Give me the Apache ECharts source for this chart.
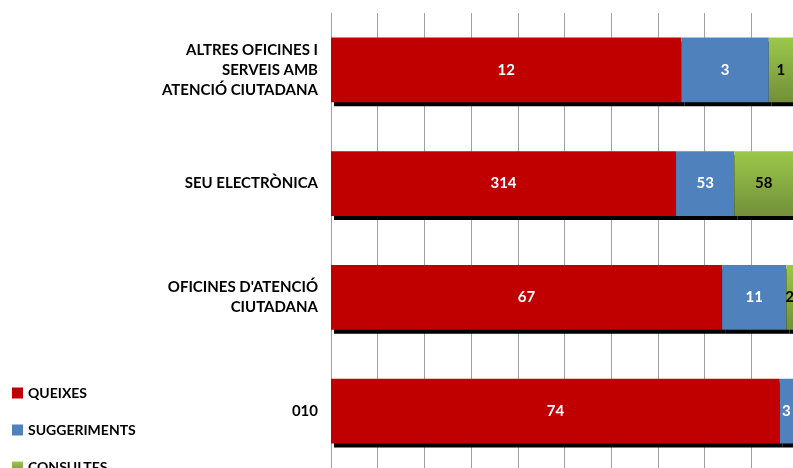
<!DOCTYPE html>
<html>
<head>
<meta charset="utf-8">
<script src="https://cdn.jsdelivr.net/npm/echarts@6/dist/echarts.min.js"></script>
<style>
  html, body { margin: 0; padding: 0; background: #fff; }
  #chart { width: 793px; height: 468px; }
</style>
</head>
<body>
<div id="chart"></div>
<script>
// categories, top to bottom
const canals = ['ALTRES OFICINES I\nSERVEIS AMB\nATENCIÓ CIUTADANA', 'SEU ELECTRÒNICA', "OFICINES D'ATENCIÓ\nCIUTADANA", '010']
const queixes = [12, 314, 67, 74]
const suggeriments = [3, 53, 11, 3]
const consultes = [1, 58, 2, 0]

const totals = canals.map((c, i) => queixes[i] + suggeriments[i] + consultes[i])
// percentatge de cada tipus sobre el total del canal (barra 100%)
const pct = (arr) => arr.map((v, i) => ({ value: v / totals[i] * 100, raw: v }))

const labelFmt = (p) => (p.data.raw ? String(p.data.raw) : '')
const font = 'Lato, "Open Sans", sans-serif'
const shadow = { shadowColor: '#000', shadowBlur: 0, shadowOffsetX: 3, shadowOffsetY: 4 }

// el gràfic original queda retallat per la dreta: el 100% cau fora del llenç
const axisMax = 100 * 462 / 467

const mkSeries = (name, arr, color, labelColor) => ({
  name: name,
  type: 'bar',
  stack: 'total',
  barCategoryGap: '43%',
  data: pct(arr),
  itemStyle: Object.assign({ color: color }, shadow),
  label: {
    show: true,
    position: 'inside',
    formatter: labelFmt,
    color: labelColor,
    fontFamily: font,
    fontWeight: 'bold',
    fontSize: 15,
  },
  emphasis: { disabled: true },
})

let option = {
  animation: false,
  backgroundColor: '#fff',
  legend: {
    orient: 'vertical',
    left: 7,
    top: 381,
    height: 200,
    itemWidth: 11,
    itemHeight: 11,
    itemGap: 23,
    icon: 'rect',
    textStyle: { fontFamily: font, fontWeight: 'bold', fontSize: 14, color: '#000' },
    data: ['QUEIXES', 'SUGGERIMENTS', 'CONSULTES'],
  },
  grid: {
    left: 331,
    right: 0,
    top: 13,
    bottom: -5,
    containLabel: false,
  },
  xAxis: {
    type: 'value',
    min: 0,
    max: axisMax,
    interval: 10,
    axisLabel: { show: false },
    axisLine: { show: false },
    axisTick: { show: false },
    splitLine: { show: true, lineStyle: { color: '#a0a0a0', width: 1 } },
  },
  yAxis: {
    type: 'category',
    inverse: true,
    data: canals,
    axisTick: { show: false },
    axisLine: { show: true, lineStyle: { color: '#a0a0a0' } },
    axisLabel: {
      margin: 13,
      align: 'right',
      fontFamily: font,
      fontWeight: 'bold',
      fontSize: 15,
      lineHeight: 20,
      color: '#000',
    },
  },
  series: [
    mkSeries('QUEIXES', queixes, '#c00000', '#fff'),
    mkSeries('SUGGERIMENTS', suggeriments, '#4f81bd', '#fff'),
    mkSeries('CONSULTES', consultes, new echarts.graphic.LinearGradient(0, 0, 0, 1, [
      { offset: 0, color: '#9bc84a' },
      { offset: 1, color: '#738f3a' },
    ]), '#000'),
  ],
}

let myChart = echarts.init(document.getElementById('chart'))
myChart.setOption(option)
</script>
</body>
</html>
